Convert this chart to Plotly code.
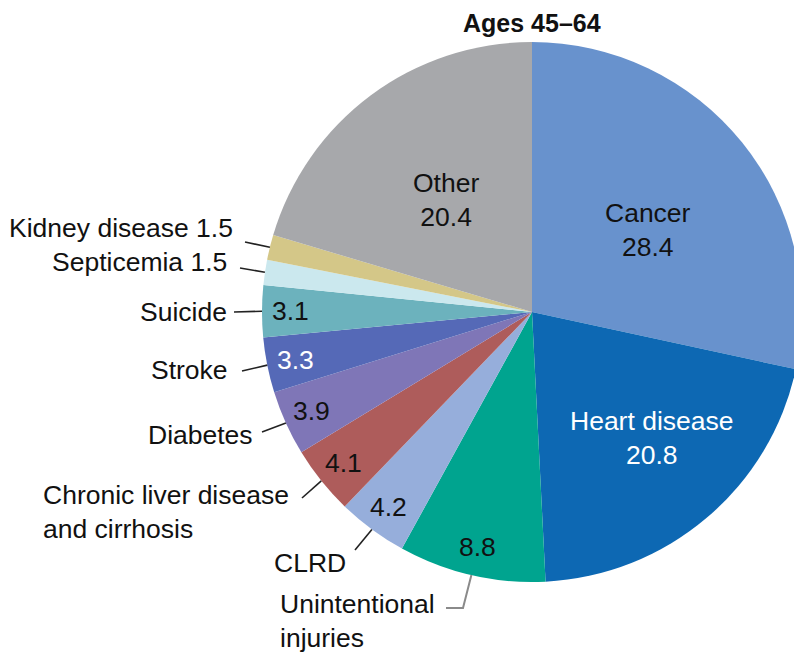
import math
import plotly.graph_objects as go

# ---- data ----
causes = ["Cancer", "Heart disease", "Unintentional injuries", "CLRD",
          "Chronic liver disease and cirrhosis", "Diabetes", "Stroke",
          "Suicide", "Septicemia", "Kidney disease", "Other"]
shares = [28.4, 20.8, 8.8, 4.2, 4.1, 3.9, 3.3, 3.1, 1.5, 1.5, 20.4]
share_labels = ["28.4", "20.8", "8.8", "4.2", "4.1", "3.9", "3.3", "3.1", "1.5", "1.5", "20.4"]
title_text = "Ages 45\u201364"

# ---- styles ----
colors = ["#6892CD", "#0D68B3", "#00A48F", "#96AEDB", "#AE5C5B", "#7F76B7",
          "#5569B7", "#6CB2BD", "#CBE8EE", "#D4C788", "#A7A8AB"]
FONT = "Liberation Sans, Arial, sans-serif"
FS = 26.5
OFF = 8                      # page body margin
W, H = 802 - OFF, 652 - OFF  # figure size
CX, CY, R = 532, 312, 270    # screen pixel geometry of the pie

# inside labels: (fraction of radius, colour, include name, nudge x, nudge y)
inside = {
    "Cancer": (0.55, "#111", True, 0, 11),
    "Heart disease": (0.64, "white", True, 8, -6),
    "Unintentional injuries": (0.885, "#111", False, -1, 2),
    "CLRD": (0.895, "#111", False, 0, 0),
    "Chronic liver disease and cirrhosis": (0.895, "#111", False, 0, 0),
    "Diabetes": (0.895, "#111", False, 0, 0),
    "Stroke": (0.895, "white", False, 0, 0),
    "Suicide": (0.895, "#111", False, 0, 0),
    "Other": (0.53, "#111", True, 0, 3),
}
outside = {
    "Kidney disease": ("Kidney disease 1.5", 235, 228, "right", "right", [(245, 242)], "#222"),
    "Septicemia": ("Septicemia 1.5", 229, 262, "right", "right", [(240, 268)], "#222"),
    "Suicide": ("Suicide", 229, 312, "right", "right", [(234, 312)], "#222"),
    "Stroke": ("Stroke", 230, 370, "right", "right", [(242, 371)], "#222"),
    "Diabetes": ("Diabetes", 255, 435, "right", "right", [(262, 432)], "#222"),
    "Chronic liver disease and cirrhosis": ("Chronic liver disease<br>and cirrhosis", 41, 512, "left", "left", [(302, 498)], "#222"),
    "CLRD": ("CLRD", 310, 563, "center", "center", [(355, 550)], "#222"),
    "Unintentional injuries": ("Unintentional<br>injuries", 278, 621, "left", "left", [(463, 608), (446, 608)], "#8a8a8a"),
}

fig = go.Figure()
fig.add_trace(go.Pie(
    labels=causes, values=shares, sort=False, direction="clockwise", rotation=0,
    marker=dict(colors=colors, line=dict(color="white", width=0)),
    textinfo="none", hoverinfo="label+value", showlegend=False,
    domain=dict(x=[(CX - R - OFF) / W, min(1, (CX + R - OFF) / W)],
                y=[1 - (CY + R - OFF) / H, 1 - (CY - R - OFF) / H]),
))

total = sum(shares)
annotations = []
shapes = []
cum = 0.0
for name, v, vl in zip(causes, shares, share_labels):
    a = 2 * math.pi * (cum + v / 2) / total
    cum += v
    s, c = math.sin(a), math.cos(a)
    if name in inside:
        f, col, with_name, nx, ny = inside[name]
        txt = f"{name}<br>{vl}" if with_name else vl
        annotations.append(dict(x=CX + R * f * s + nx, y=CY - R * f * c + ny, text=txt, showarrow=False,
                                xref="x", yref="y", xanchor="center", yanchor="middle",
                                font=dict(family=FONT, size=FS, color=col)))
    if name in outside:
        txt, tx, ty, xa, al, pts, lc = outside[name]
        annotations.append(dict(x=tx, y=ty, text=txt, showarrow=False, xref="x", yref="y",
                                xanchor=xa, yanchor="middle", align=al,
                                font=dict(family=FONT, size=FS, color="#111")))
        px, py = CX + R * s, CY - R * c
        path = f"M {px:.1f} {py:.1f} " + " ".join(f"L {x} {y}" for x, y in pts)
        shapes.append(dict(type="path", path=path, xref="x", yref="y",
                           line=dict(color=lc, width=2 if lc != "#222" else 1.6)))

annotations.append(dict(x=CX, y=OFF, text=f"<b>{title_text}</b>", showarrow=False, xref="x", yref="y",
                        xanchor="center", yanchor="top", borderpad=0,
                        font=dict(family=FONT, size=25, color="#111")))

fig.update_layout(
    width=W, height=H, margin=dict(l=0, r=0, t=0, b=0),
    paper_bgcolor="white", plot_bgcolor="rgba(0,0,0,0)",
    xaxis=dict(range=[OFF, OFF + W], visible=False, fixedrange=True),
    yaxis=dict(range=[OFF + H, OFF], visible=False, fixedrange=True),
    annotations=annotations, shapes=shapes,
)
fig.write_html("out.html")
